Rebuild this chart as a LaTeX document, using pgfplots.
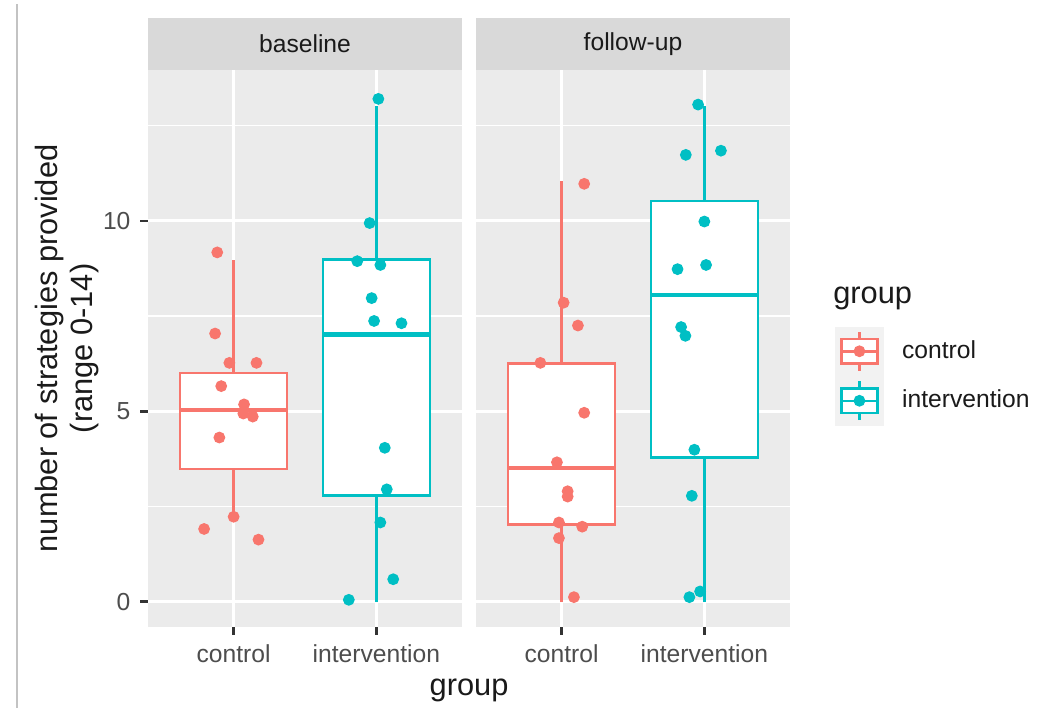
\documentclass[border=0pt]{standalone}
\usepackage{pgfplots}
\pgfplotsset{compat=1.18}
\usepgfplotslibrary{statistics}
\usepackage{fontspec}
\setmainfont{Liberation Sans}
\definecolor{ctrl}{HTML}{F8766D}
\definecolor{intv}{HTML}{00BFC4}
\definecolor{panelbg}{HTML}{EBEBEB}
\definecolor{stripbg}{HTML}{D9D9D9}
\definecolor{keybg}{HTML}{F2F2F2}
\definecolor{ticklab}{HTML}{4D4D4D}
\definecolor{tickcol}{HTML}{333333}
\definecolor{txt}{HTML}{1A1A1A}

\pgfplotstableread{
x y
0.885 9.17
0.870 7.04
0.970 6.27
1.160 6.27
0.913 5.66
1.073 5.18
1.068 4.94
1.134 4.86
0.900 4.31
1.000 2.23
0.793 1.91
1.174 1.63
}\baseCtrl
\pgfplotstableread{
x y
2.014 13.20
1.953 9.94
1.866 8.94
2.028 8.84
1.967 7.97
1.984 7.37
2.176 7.31
2.059 4.04
2.073 2.95
2.028 2.08
2.118 0.59
1.807 0.05
}\baseIntv
\pgfplotstableread{
x y
1.158 10.97
1.014 7.85
1.114 7.25
0.851 6.27
1.158 4.96
0.967 3.66
1.042 2.90
1.042 2.76
0.981 2.08
1.144 1.97
0.981 1.67
1.086 0.12
}\fuCtrl
\pgfplotstableread{
x y
1.956 13.05
1.870 11.73
2.116 11.84
2.000 9.98
2.012 8.84
1.812 8.73
1.837 7.21
1.867 6.98
1.930 3.99
1.912 2.78
1.970 0.27
1.895 0.12
}\fuIntv

\pgfplotsset{
 facet/.style={
  scale only axis, width=112.14pt, height=198.9pt,
  xmin=0.4, xmax=2.6, ymin=-0.66, ymax=13.96,
  anchor=south west,
  axis background/.style={fill=panelbg},
  axis line style={draw=none},
  xtick={1,2}, xticklabels={control,intervention},
  ytick={0,5,10}, minor ytick={2.5,7.5,12.5},
  grid=both,
  major grid style={white, line width=1pt},
  minor grid style={white, line width=0.5pt},
  tick align=outside, tick pos=left,
  major tick length=2.75pt, minor tick length=0pt,
  tick style={tickcol, line width=0.9pt},
  ticklabel style={font=\fontsize{8.8}{10.56}\selectfont, text=ticklab},
  /pgf/number format/assume math mode=true,
  clip=false,
 },
 bxp/.style={draw=#1, fill=white, line width=0.9pt,
  boxplot/draw direction=y,
  boxplot/box extend=0.75, boxplot/whisker extend=0,
  boxplot/every median/.style={line width=1.7pt}},
 pts/.style={only marks, mark=*, mark size=1.9pt, color=#1, mark options={draw=#1, fill=#1}},
 boxkey/.style={legend image code/.code={
   \fill[keybg] (0pt,-8.64pt) rectangle (17.28pt,8.64pt);
   \draw[#1, line width=0.9pt] (8.64pt,-6.9pt) -- (8.64pt,-4.32pt) (8.64pt,4.32pt) -- (8.64pt,6.9pt);
   \filldraw[fill=white, draw=#1, line width=0.9pt] (2.16pt,-4.32pt) rectangle (15.12pt,4.32pt);
   \draw[#1, line width=0.9pt] (2.16pt,0pt) -- (15.12pt,0pt);
   \fill[#1] (8.64pt,0pt) circle (1.9pt);
   \path (23.7pt,0pt);
 }},
}

\begin{document}
\begin{tikzpicture}
\useasboundingbox (0pt,0pt) rectangle (373.2pt,252.8pt);
\draw[color={rgb,255:red,195;green,195;blue,195}, line width=0.6pt] (6.07pt,0pt) -- (6.07pt,251.2pt);

% ---------- baseline ----------
\begin{axis}[facet, at={(52.86pt,28.93pt)},
  ylabel={number of strategies provided\\(range 0-14)},
  ylabel style={align=center, font=\fontsize{11}{12.4}\selectfont, text=txt,
    at={(axis description cs:-0.257,0.5)}, anchor=center},
]
\fill[stripbg] (rel axis cs:0,1) rectangle ([yshift=18.57pt]rel axis cs:1,1);
\node[font=\fontsize{8.8}{10.56}\selectfont, text=txt] at ([yshift=9.29pt]rel axis cs:0.5,1) {baseline};
\addplot[bxp=ctrl, boxplot prepared={lower whisker=2.23, lower quartile=3.48, median=5.03, upper quartile=6.0, upper whisker=8.98, draw position=1}] coordinates {};
\addplot[bxp=intv, boxplot prepared={lower whisker=0, lower quartile=2.79, median=7.02, upper quartile=8.98, upper whisker=13.0, draw position=2}] coordinates {};
\addplot[pts=ctrl] table[x=x,y=y] {\baseCtrl};
\addplot[pts=intv] table[x=x,y=y] {\baseIntv};
\end{axis}

% ---------- follow-up ----------
\begin{axis}[facet, at={(170.0pt,28.93pt)},
  yticklabels={}, ytick style={draw=none},
  legend style={draw=none, fill=none, at={(axis description cs:1.1405,0.5403)}, anchor=north west,
    inner sep=0pt, row sep=0pt, nodes={inner sep=0pt}, cells={anchor=west},
    font=\fontsize{8.8}{10.56}\selectfont, text=txt},
]
\fill[stripbg] (rel axis cs:0,1) rectangle ([yshift=18.57pt]rel axis cs:1,1);
\node[font=\fontsize{8.8}{10.56}\selectfont, text=txt] at ([yshift=9.29pt]rel axis cs:0.5,1) {follow-up};
\addplot[bxp=ctrl, boxplot prepared={lower whisker=0, lower quartile=2.03, median=3.51, upper quartile=6.26, upper whisker=11.04, draw position=1}, forget plot] coordinates {};
\addplot[bxp=intv, boxplot prepared={lower whisker=0, lower quartile=3.78, median=8.05, upper quartile=10.52, upper whisker=13.0, draw position=2}, forget plot] coordinates {};
\addplot[pts=ctrl, forget plot] table[x=x,y=y] {\fuCtrl};
\addplot[pts=intv, forget plot] table[x=x,y=y] {\fuIntv};
\addlegendimage{boxkey=ctrl}
\addlegendentry{control}
\addlegendimage{boxkey=intv}
\addlegendentry{intervention}
\node[anchor=west, font=\fontsize{11}{13}\selectfont, text=txt, inner sep=0pt] at (axis description cs:1.136,0.5906) {group};
\end{axis}

\node[font=\fontsize{11}{13}\selectfont, text=txt] at (167.5pt,6.4pt) {group};
\end{tikzpicture}
\end{document}
